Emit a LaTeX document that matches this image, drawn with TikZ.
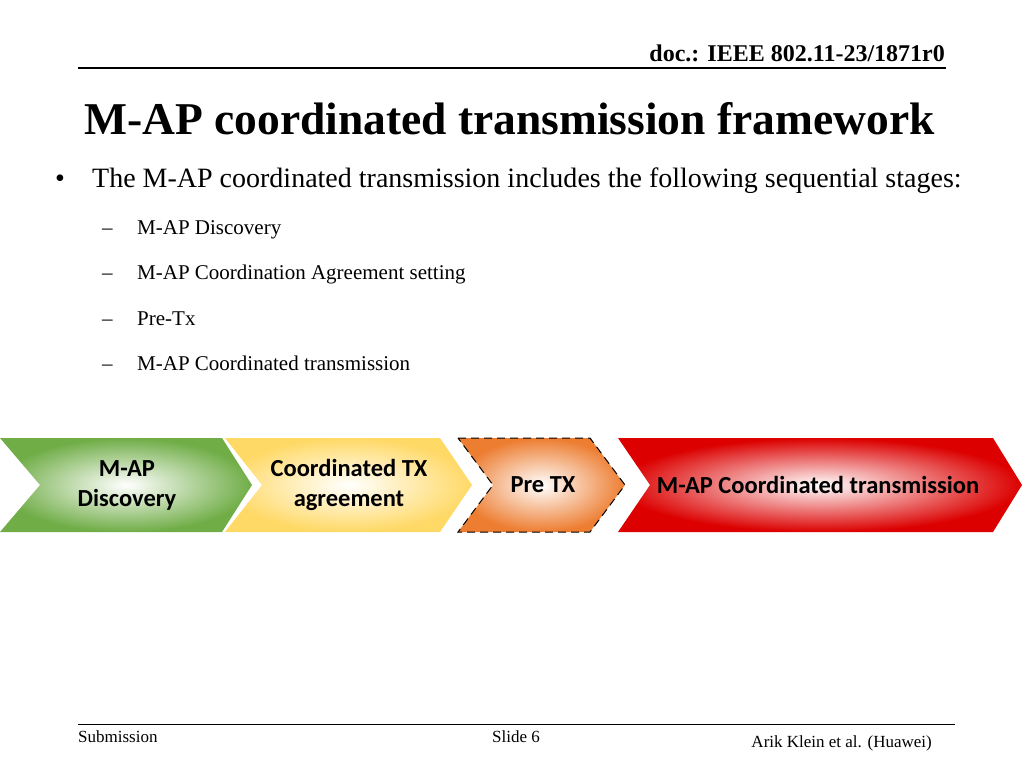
\documentclass[tikz,border=0pt]{standalone}
\usepackage{fontspec}
\setmainfont{Liberation Serif}
\newfontfamily\carlitofont{Carlito}
\begin{document}
\begin{tikzpicture}[x=1pt,y=-1pt,
 lbl/.style={font=\carlitofont\bfseries\fontsize{24.5}{30}\selectfont,align=center,text=black},
 txt/.style={anchor=base west,inner sep=0pt}]
\useasboundingbox (0,0) rectangle (1024,768);
\definecolor{gr}{RGB}{112,173,71}
\definecolor{yl}{RGB}{255,217,102}
\definecolor{orr}{RGB}{237,125,49}
\definecolor{rd}{RGB}{220,0,0}
\node[txt,font=\bfseries\fontsize{24}{28}\selectfont,anchor=base east] (hdr) at (945,62) {doc.: IEEE 802.11-23/1871r0};
\draw[line width=1.2pt] (78,68) -- (946,68);
\node[txt,font=\bfseries\fontsize{45.5}{52}\selectfont] (title) at (84,134) {M-AP coordinated transmission framework};
\node[txt,font=\fontsize{28}{32}\selectfont] (b0) at (55,187) {•};
\node[txt,font=\fontsize{28}{32}\selectfont] (b1) at (92,187) {The M-AP coordinated transmission includes the following sequential stages:};
\foreach \y/\t [count=\i] in {234/M-AP Discovery,279/M-AP Coordination Agreement setting,325/Pre-Tx,370/M-AP Coordinated transmission}{
  \node[txt,font=\fontsize{21}{24}\selectfont] (d\i) at (102,\y) {–};
  \node[txt,font=\fontsize{21}{24}\selectfont] (s\i) at (137,\y) {\t};}
% chevrons
\shade[inner color=white,outer color=gr] (0,438) -- (222,438) -- (252,485) -- (222,532) -- (0,532) -- (40,485) -- cycle;
\shade[inner color=white,outer color=yl] (225,438) -- (440,438) -- (472,485) -- (440,532) -- (225,532) -- (262,485) -- cycle;
\shade[inner color=white,outer color=orr,draw=black,dash pattern=on 8pt off 5pt,line width=1pt] (458,438) -- (590,438) -- (625,485) -- (590,532) -- (458,532) -- (493,485) -- cycle;
\shade[inner color=white,outer color=rd] (618,438) -- (993,438) -- (1022,485) -- (993,532) -- (618,532) -- (650,485) -- cycle;
\node[lbl] (c1) at (127,485) {M-AP\\Discovery};
\node[lbl] (c2) at (349,485) {Coordinated TX\\agreement};
\node[lbl] (c3) at (543,485) {Pre TX};
\node[lbl] (c4) at (818,485) {M-AP Coordinated transmission};
% footer
\draw[line width=1pt] (78,724) -- (955,724);
\node[txt,font=\fontsize{17}{20}\selectfont] (f1) at (78,742) {Submission};
\node[txt,font=\fontsize{17}{20}\selectfont] (f2) at (492,742) {Slide 6};
\node[txt,font=\fontsize{17}{20}\selectfont,anchor=base east] (f3) at (932,747) {Arik Klein et al. (Huawei)};
\end{tikzpicture}
\end{document}
